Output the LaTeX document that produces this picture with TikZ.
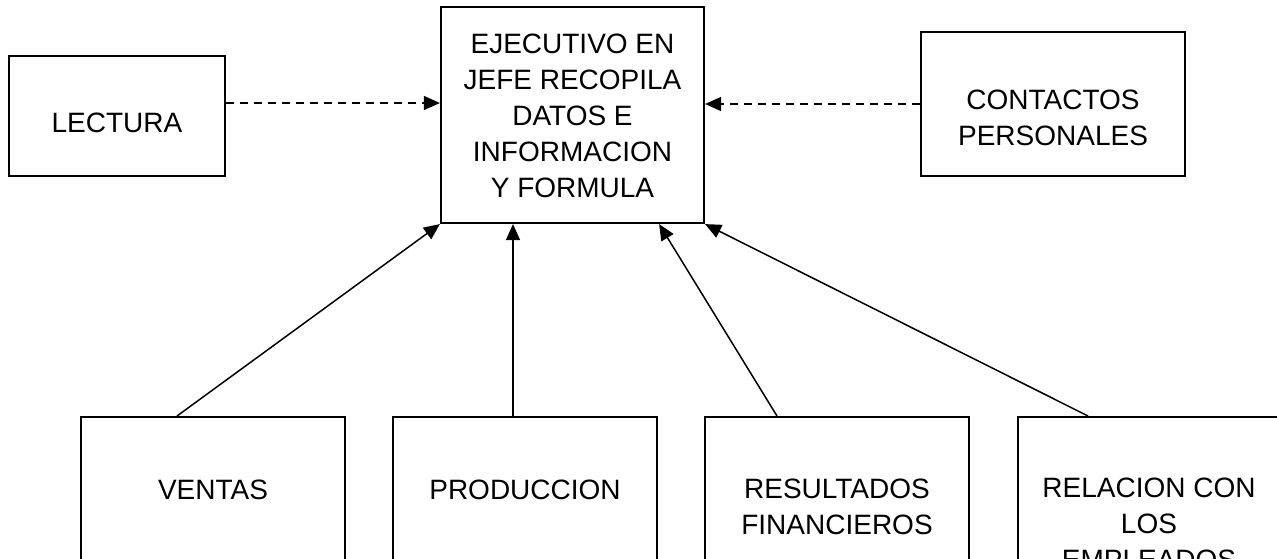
\documentclass[tikz,border=0pt]{standalone}
\usepackage{fontspec}
\setmainfont{Liberation Sans}
\usepackage{tikz}
\usetikzlibrary{arrows.meta}
\tikzstyle{caja}     = [rectangle, draw=black, line width=2.2pt, inner sep=0pt,
                        minimum width=264pt]
\tikzstyle{rotulo}   = [align=center, inner sep=0pt,
                        font=\fontsize{28}{36}\selectfont]
\tikzstyle{flecha}   = [line width=1.5pt, -{Triangle[length=16pt, width=14pt]}]
\tikzstyle{punteada} = [flecha, dash pattern=on 8pt off 6pt]

\begin{document}
\begin{tikzpicture}[x=1pt, y=-1pt]
    \useasboundingbox (0,0) rectangle (1277,558);
    \clip (0,0) rectangle (1277,558);

    % ── Cajas superiores ────────────────────────────────────────────────────
    \node (lectura)   [caja, minimum width=216pt, minimum height=120pt] at (117,116)   {};
    \node (jefe)      [caja, minimum width=263pt, minimum height=216pt] at (572.5,115) {};
    \node (contactos) [caja, minimum height=144pt]                      at (1053,104)  {};

    % ── Cajas inferiores ────────────────────────────────────────────────────
    \node (ventas)     [caja, minimum height=200pt, anchor=north] at (213,416)  {};
    \node (produccion) [caja, minimum height=200pt, anchor=north] at (525,416)  {};
    \node (resultados) [caja, minimum height=200pt, anchor=north] at (837,416)  {};
    \node (relacion)   [caja, minimum width=290pt, minimum height=200pt,
                        anchor=north west] at (1017,416) {};

    % ── Textos ──────────────────────────────────────────────────────────────
    \node (lecturaT)    [rotulo] at (117,123)    {LECTURA};
    \node (jefeT)       [rotulo] at (572.5,116)  {EJECUTIVO EN\\JEFE RECOPILA\\DATOS E\\INFORMACION\\Y FORMULA};
    \node (contactosT)  [rotulo] at (1053,118)   {CONTACTOS\\PERSONALES};
    \node (ventasT)     [rotulo, anchor=north] at (213,480)  {VENTAS};
    \node (produccionT) [rotulo, anchor=north] at (525,480)  {PRODUCCION};
    \node (resultadosT) [rotulo, anchor=north] at (837,479)  {RESULTADOS\\FINANCIEROS};
    \node (relacionT)   [rotulo, anchor=north] at (1149,478) {RELACION CON\\LOS\\EMPLEADOS};

    % ── Flechas punteadas ───────────────────────────────────────────────────
    \coordinate (lecturaS) at ([yshift=13pt]lectura.east);
    \draw [punteada] (lecturaS) -- (lecturaS -| jefe.west);
    \draw [punteada] (contactos.west) -- (contactos.west -| jefe.east);

    % ── Flechas desde abajo ─────────────────────────────────────────────────
    \coordinate (ventasS)     at ([xshift=-36pt]ventas.north);
    \coordinate (produccionS) at ([xshift=-12pt]produccion.north);
    \coordinate (resultadosS) at ([xshift=-60pt]resultados.north);
    \coordinate (relacionS)   at ([xshift=71pt]relacion.north west);
    \draw [flecha] (ventasS)     -- (jefe.south west);
    \draw [flecha] (produccionS) -- (produccionS |- jefe.south);
    \draw [flecha] (resultadosS) -- ([xshift=-46pt]jefe.south east);
    \draw [flecha] (relacionS)   -- (jefe.south east);

\end{tikzpicture}
\end{document}
